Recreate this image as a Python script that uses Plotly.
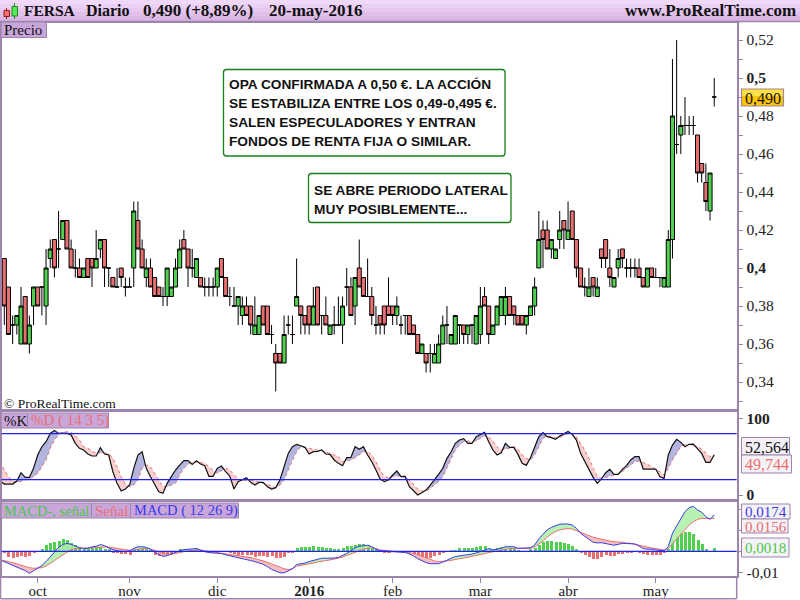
import plotly.graph_objects as go

# ---------- data ----------
opens = [.405,.39,.37,.37,.36,.385,.36,.38,.39,.39,
 .38,.405,.415,.41,.415,.425,.41,.40,.40,.395,
 .405,.405,.40,.41,.415,.40,.395,.39,.40,.39,
 .39,.40,.425,.41,.395,.40,.395,.39,.385,.385,
 .385,.39,.40,.415,.41,.40,.395,.395,.39,.39,
 .39,.39,.405,.395,.385,.38,.38,.375,.38,.38,
 .365,.365,.38,.38,.365,.355,.355,.35,.37,.365,
 .38,.38,.375,.38,.37,.39,.375,.375,.365,.37,
 .37,.37,.39,.39,.38,.40,.395,.385,.385,.37,
 .375,.38,.38,.38,.375,.37,.375,.375,.37,.365,
 .355,.355,.355,.35,.35,.36,.37,.36,.36,.37,
 .37,.365,.37,.36,.365,.385,.38,.365,.37,.375,
 .375,.385,.38,.375,.375,.37,.375,.38,.40,.42,
 .42,.41,.405,.415,.425,.415,.43,.415,.40,.39,
 .385,.395,.385,.41,.415,.40,.39,.40,.41,.40,
 .40,.40,.40,.395,.39,.40,.395,.395,.39,.39,
 .415,.465,.47,.475,.475,.475,.47,.455,.445,.43,.49]
closes = [.38,.365,.37,.375,.38,.36,.37,.39,.38,.39,
 .40,.41,.40,.41,.425,.41,.40,.40,.395,.40,
 .395,.40,.405,.415,.40,.40,.39,.39,.395,.39,
 .39,.43,.41,.40,.40,.39,.385,.385,.385,.40,
 .39,.40,.41,.41,.40,.40,.405,.39,.39,.39,
 .39,.40,.395,.385,.385,.38,.385,.38,.375,.37,
 .37,.375,.37,.365,.365,.35,.35,.365,.37,.365,
 .385,.375,.37,.37,.38,.37,.375,.37,.37,.37,
 .37,.38,.39,.375,.395,.39,.385,.385,.375,.37,
 .37,.37,.375,.375,.38,.37,.375,.365,.365,.355,
 .36,.35,.355,.355,.36,.37,.37,.365,.375,.37,
 .365,.37,.37,.375,.38,.38,.365,.37,.38,.385,
 .385,.375,.375,.37,.37,.375,.38,.39,.415,.415,
 .41,.415,.41,.42,.42,.42,.415,.40,.39,.39,
 .39,.39,.39,.405,.405,.395,.395,.405,.405,.40,
 .40,.40,.395,.39,.40,.395,.395,.395,.395,.415,
 .48,.465,.475,.475,.475,.475,.45,.45,.435,.45,.49]
highs = [.405,.39,.375,.375,.39,.385,.375,.39,.39,.39,
 .41,.415,.415,.43,.425,.425,.415,.41,.405,.40,
 .405,.405,.42,.415,.415,.40,.395,.40,.40,.395,
 .395,.435,.435,.415,.405,.405,.395,.39,.39,.40,
 .39,.405,.415,.42,.41,.41,.405,.395,.395,.395,
 .395,.40,.405,.395,.39,.39,.385,.385,.385,.38,
 .385,.375,.38,.38,.37,.36,.355,.375,.375,.375,
 .405,.38,.375,.38,.39,.39,.375,.385,.37,.38,
 .385,.385,.40,.395,.395,.415,.395,.405,.39,.38,
 .375,.38,.395,.38,.385,.375,.375,.375,.37,.365,
 .36,.355,.36,.36,.365,.375,.38,.365,.375,.37,
 .37,.37,.37,.375,.39,.39,.38,.37,.38,.385,
 .39,.385,.38,.375,.375,.375,.38,.395,.43,.425,
 .425,.415,.41,.43,.425,.435,.43,.415,.40,.395,
 .40,.395,.395,.41,.415,.41,.395,.41,.41,.405,
 .405,.405,.405,.395,.40,.40,.40,.395,.395,.42,
 .51,.52,.48,.49,.48,.48,.47,.455,.455,.45,.50]
lows = [.37,.365,.36,.365,.36,.36,.355,.37,.38,.375,
 .37,.40,.395,.40,.415,.41,.40,.395,.395,.395,
 .395,.39,.40,.405,.39,.39,.39,.39,.39,.385,
 .39,.39,.41,.40,.39,.39,.385,.385,.38,.38,
 .385,.39,.40,.41,.39,.395,.395,.39,.385,.385,
 .385,.385,.395,.385,.38,.38,.37,.37,.375,.365,
 .365,.365,.37,.365,.36,.335,.35,.35,.365,.36,
 .38,.365,.365,.365,.37,.37,.365,.37,.365,.365,
 .37,.36,.38,.375,.37,.39,.385,.385,.37,.365,
 .365,.365,.375,.37,.37,.365,.365,.365,.365,.355,
 .355,.345,.345,.35,.35,.36,.36,.36,.36,.36,
 .36,.36,.36,.36,.36,.38,.36,.365,.37,.375,
 .37,.375,.37,.37,.37,.365,.375,.375,.40,.40,
 .41,.405,.405,.41,.41,.415,.415,.395,.39,.385,
 .385,.385,.385,.40,.40,.39,.39,.395,.40,.395,
 .395,.395,.395,.39,.39,.395,.395,.39,.39,.39,
 .405,.46,.46,.47,.47,.47,.445,.445,.43,.425,.485]

# stochastic %K / %D, first value is the bar just left of the first candle
stoch_k = [18.3,
 14.3,14.3,14.3,18.3,29.1,23,23,34.8,52.2,63,69.6,80.4,84.3,80.4,80.9,80.4,78.3,67.4,60.9,58.7,
 53.5,50.9,50.9,61.7,53.5,52.2,30.4,15.2,5.2,7.8,13,34.8,52.2,56.5,34.8,23.9,13,4.3,2.2,15.2,
 23.9,32.6,39.1,44.8,44.8,40,44.8,40.4,38.3,24.3,24.3,34.8,37.8,30.4,24.8,7.8,17.4,19.6,22.6,16.5,
 13,16.5,16.5,10.9,
 7.8,9.6,19.6,37,54.3,63,66.1,64.3,62.2,53.5,56.5,57,58.7,53.5,53,45.7,41.3,38.3,48.7,49.1,
 63,59.6,63,52.2,43.5,32.6,20.9,17.4,19.6,26.1,31.3,23.9,23.9,10.9,5.7,0,3,6.5,13,19.6,
 27,34.8,47.8,56.5,67.4,71.7,73.5,67.4,67.4,76.1,79.1,81.7,69.6,58.7,52.2,55.2,67.4,62.2,62.2,53,
 41.3,38.7,
 48.7,63,76.1,81.3,76.1,74.8,72.6,77,80.4,83,79.1,71.7,54.3,43.5,32.6,23,15.2,20.9,29.1,33.5,
 27,27,33.5,38.3,45.7,50,50,33.9,33.9,33.9,33.9,23.9,21.7,52.2,65.2,72.6,68.7,63,66.1,66.5,
 60.9,54.3,42.6,42.6,52.564]
stoch_d = [43.5,
 32.6,23.9,18.3,16.5,18.3,19.6,20.9,23.9,28.3,37,45.7,60.9,71.7,79.1,81.7,82.6,81.7,77.4,71.7,63,
 60.9,57.4,54.3,55.2,55.2,54.3,47.8,37,23.9,14.3,10.9,13,19.6,34.8,39.1,37,28.3,19.6,10.9,10.9,
 13,15.2,26.1,34.8,40,42.6,42.6,42.6,41.3,37,31.7,28.3,31.7,34.8,32.6,26.1,20.9,18.3,19.6,19.6,
 18.3,16.5,15.7,13.9,
 11.7,9.6,13,19.6,32.6,45.7,56.5,63,61.7,60.9,59.6,58.7,57.8,56.5,54.3,52.2,50,43.5,44.3,45.7,
 48.7,52.2,56.5,56.5,52.2,43.5,32.6,23.9,22.6,23.9,24.8,25.2,25.2,19.6,13,7.8,5.2,5.2,8.7,13,
 17.4,23.9,34.8,47.8,58.7,65.2,69.6,70.4,69.6,70.4,73.9,77.4,76.1,70.4,63,58.7,60,60.9,63,59.6,
 52.2,47.8,
 45.7,52.2,63,73.9,77.4,76.1,74.8,75.2,77.4,80.4,80.4,76.1,67.4,58.7,47.8,34.8,23.9,21.7,23,24.8,
 26.1,27,30.4,34.8,39.1,43.5,44.3,42.6,40,37,33.9,30.4,26.1,34.8,45.7,54.3,63,66.1,66.1,64.3,
 63,60,54.3,50,49.744]

# MACD, signal and histogram in ten-thousandths
macd_e4 = [-41,
 -49,-57,-67,-76,-84,-92,-105,-92,-81,-68,-49,-25,-2,19,32,38,33,24,17,14,14,21,24,32,27,17,8,3,2,-2,
 2,14,21,22,19,10,-5,-16,-24,-21,-13,-3,3,8,10,11,13,6,-2,-6,-8,-10,-11,-17,-21,-25,-30,-33,-37,-44,
 -49,-54,-62,-73,
 -86,-94,-102,-103,-94,-83,-63,-60,-56,-49,-43,-40,-33,-33,-33,-32,-29,-21,-10,2,17,24,27,29,22,10,
 3,0,0,-2,-2,-3,-5,-13,-22,-35,-46,-54,-59,-59,-59,-52,-41,-33,-25,-22,-21,-17,-13,-8,-3,5,13,6,10,14,
 22,22,22,14,14,14,
 17,30,59,81,102,114,122,129,130,130,125,110,86,70,57,43,40,41,37,35,29,33,38,37,35,35,25,13,10,10,
 6,3,3,22,86,121,157,189,208,214,197,186,165,152,174]
signal_e4 = [-41,
 -44,-49,-54,-60,-67,-73,-78,-81,-81,-78,-70,-59,-44,-30,-16,-3,8,13,14,16,16,17,19,22,22,21,17,14,11,8,
 5,8,11,14,14,11,6,-2,-10,-14,-14,-11,-6,-2,2,5,6,6,3,0,-3,-6,-10,-13,-14,-17,-19,-22,-25,-30,
 -35,-40,-44,-52,
 -60,-68,-76,-83,-87,-83,-71,-68,-65,-60,-56,-51,-46,-44,-41,-38,-33,-27,-19,-13,-5,3,10,14,17,13,
 6,5,3,0,-2,-2,-3,-6,-10,-16,-24,-33,-41,-46,-49,-49,-46,-43,-38,-35,-32,-29,-24,-19,-16,-11,-6,-3,0,5,
 10,13,14,14,14,14,
 14,21,33,49,67,83,94,102,106,108,106,98,89,81,73,67,62,57,52,49,46,43,41,40,38,33,29,24,19,16,
 13,10,6,13,33,57,81,105,125,141,152,157,157,157,156]
hist_e4 = [-5,-29,-30,-25,-22,-25,-22,-10,0,11,30,41,44,49,57,52,41,30,22,17,14,14,17,21,11,10,-10,-10,-13,-14,
 -16,13,13,14,10,2,-17,-21,-22,-16,-11,-6,11,10,10,8,14,5,-3,-3,-5,-3,-3,-3,-6,-11,-16,-19,-19,-19,
 -27,-24,-22,-25,
 -21,-30,-30,-25,-10,-5,16,21,22,22,24,22,22,17,17,13,13,17,24,24,30,35,33,29,17,10,-3,-8,-5,-2,
 -2,-3,-3,-6,-13,-24,-27,-30,-30,-24,-17,-8,-3,8,8,14,14,14,14,19,24,25,17,10,14,19,22,22,22,8,0,0,
 11,17,30,44,48,49,44,44,41,37,27,11,-8,-16,-29,-35,-37,-27,-19,-21,-21,-14,-11,-10,-5,-3,-6,-13,-16,-16,
 -16,-16,-10,10,54,73,86,90,94,81,54,35,11,0,18]

month_bars = [8, 30, 51, 73, 93, 114, 135, 156]
month_labels = ["oct", "nov", "dic", "<b>2016</b>", "feb", "mar", "abr", "may"]
price_ticks = [.52, .50, .48, .46, .44, .42, .40, .38, .36, .34]
price_labels = ["0,52", "<b>0,5</b>", "0,48", "0,46", "0,44", "0,42", "<b>0,4</b>", "0,38", "0,36", "0,34"]
price_minor = [.51, .49, .47, .45, .43, .41, .39, .37, .35, .33]
note_one = ["OPA CONFIRMADA A 0,50 €. LA ACCIÓN",
            "SE ESTABILIZA ENTRE LOS 0,49-0,495 €.",
            "SALEN ESPECULADORES Y ENTRAN",
            "FONDOS DE RENTA FIJA O SIMILAR."]
note_two = ["SE ABRE PERIODO LATERAL", "MUY POSIBLEMENTE..."]

assert all(len(a) == 171 for a in (opens, closes, highs, lows, hist_e4))
assert all(len(a) == 172 for a in (stoch_k, stoch_d, macd_e4, signal_e4))

# ---------- style ----------
SERIF = "Liberation Serif"
SANS = "Liberation Sans"
FRAME = "#9d84ad"
BLUE = "#2222ee"
RED = "#e76f6f"
GREEN = "#4fd14f"

W, H = 800, 600
def px(x): return x / W
def py(y): return 1 - y / H

bars = list(range(171))
ind_x = list(range(-1, 171))
macd = [v / 10000 for v in macd_e4]
signal = [v / 10000 for v in signal_e4]
hist = [v / 10000 for v in hist_e4]


def split_fill(xs, a, b):
    """Closed polygons between series a and b: where a>=b and where a<b."""
    up_x, up_y, dn_x, dn_y = [], [], [], []
    for j in range(len(xs) - 1):
        x0, x1, a0, a1, b0, b1 = xs[j], xs[j + 1], a[j], a[j + 1], b[j], b[j + 1]
        d0, d1 = a0 - b0, a1 - b1
        if d0 * d1 < 0:
            t = d0 / (d0 - d1)
            xm, ym = x0 + t * (x1 - x0), a0 + t * (a1 - a0)
            first = (up_x, up_y) if d0 > 0 else (dn_x, dn_y)
            second = (dn_x, dn_y) if d0 > 0 else (up_x, up_y)
            first[0].extend([x0, xm, x0, x0, None])
            first[1].extend([a0, ym, b0, a0, None])
            second[0].extend([xm, x1, x1, xm, None])
            second[1].extend([ym, a1, b1, ym, None])
        else:
            tx, ty = (up_x, up_y) if (d0 + d1) >= 0 else (dn_x, dn_y)
            tx.extend([x0, x1, x1, x0, x0, None])
            ty.extend([a0, a1, b1, b0, a0, None])
    return up_x, up_y, dn_x, dn_y


def poly(x, y, color, xa, ya):
    return go.Scatter(x=x, y=y, mode="lines", fill="toself", fillcolor=color,
                      line=dict(width=0), hoverinfo="skip", xaxis=xa, yaxis=ya,
                      showlegend=False)


fig = go.Figure()

# price panel
fig.add_trace(go.Candlestick(
    x=bars, open=opens, high=highs, low=lows, close=closes, xaxis="x", yaxis="y",
    whiskerwidth=0, showlegend=False,
    increasing=dict(fillcolor=GREEN, line=dict(color="#000000", width=1)),
    decreasing=dict(fillcolor=RED, line=dict(color="#000000", width=1))))

# stochastic panel
ux, uy, dx, dy = split_fill(ind_x, stoch_k, stoch_d)
fig.add_trace(poly(ux, uy, "#b3b5de", "x2", "y2"))
fig.add_trace(poly(dx, dy, "#f7cfcf", "x2", "y2"))
fig.add_trace(go.Scatter(x=ind_x, y=stoch_d, mode="lines", xaxis="x2", yaxis="y2", showlegend=False,
                         line=dict(color=RED, width=1, dash="3px,3px")))
fig.add_trace(go.Scatter(x=ind_x, y=stoch_k, mode="lines", xaxis="x2", yaxis="y2", showlegend=False,
                         line=dict(color="#111111", width=1.2)))

# MACD panel
fig.add_trace(go.Bar(x=bars, y=hist, xaxis="x3", yaxis="y3", width=0.72, showlegend=False,
                     marker=dict(color=[GREEN if v >= 0 else RED for v in hist], line=dict(width=0))))
ux, uy, dx, dy = split_fill(ind_x, macd, signal)
fig.add_trace(poly(ux, uy, "rgba(170,240,165,0.85)", "x3", "y3"))
fig.add_trace(poly(dx, dy, "rgba(245,180,180,0.85)", "x3", "y3"))
fig.add_trace(go.Scatter(x=ind_x, y=signal, mode="lines", xaxis="x3", yaxis="y3", showlegend=False,
                         line=dict(color=RED, width=1)))
fig.add_trace(go.Scatter(x=ind_x, y=macd, mode="lines", xaxis="x3", yaxis="y3", showlegend=False,
                         line=dict(color="#3a3ae8", width=1)))

# axes
LEFT, RIGHT = 1.5, 736.7
xr = [(LEFT - 4.3) / 4.176, (RIGHT - 4.3) / 4.176]
common_x = dict(range=xr, domain=[px(LEFT), px(RIGHT)], showgrid=False, zeroline=False,
                showline=True, mirror=True, linecolor=FRAME, linewidth=1.5, fixedrange=True,
                rangeslider=dict(visible=False))
common_y = dict(side="right", showgrid=False, zeroline=False, showline=True, mirror=True,
                linecolor=FRAME, linewidth=1.5, ticks="outside", ticklen=5, tickcolor=FRAME,
                tickfont=dict(family=SERIF, size=15.5, color="#222222"), fixedrange=True)

fig.update_layout(
    width=W, height=H, margin=dict(l=0, r=0, t=0, b=0, pad=0, autoexpand=False), autosize=False,
    paper_bgcolor="white", plot_bgcolor="white", showlegend=False,
    boxgap=0.03, boxgroupgap=0, bargap=0, barmode="overlay",
    xaxis=dict(common_x, anchor="y", showticklabels=False, ticks=""),
    xaxis2=dict(common_x, anchor="y2", showticklabels=False, ticks=""),
    xaxis3=dict(common_x, anchor="y3", tickmode="array", tickvals=month_bars, ticktext=month_labels,
                ticks="outside", ticklen=5, tickcolor=FRAME, ticklabelstandoff=-5,
                tickfont=dict(family=SERIF, size=15, color="#222222")),
    yaxis=dict(common_y, anchor="x", domain=[py(409), py(23)],
               range=[.40 - (409 - 268) / 1900, .40 + (268 - 23) / 1900],
               tickmode="array", tickvals=price_ticks, ticktext=price_labels,
               minor=dict(tickmode="array", tickvals=price_minor, ticks="outside", ticklen=5, tickcolor=FRAME)),
    yaxis2=dict(common_y, anchor="x2", domain=[py(499), py(412)], range=[-5.2, 108.3],
                tickmode="array", tickvals=[100, 0], ticktext=["<b>100</b>", "<b>0</b>"]),
    yaxis3=dict(common_y, anchor="x3", domain=[py(576), py(502)], range=[-0.01176, 0.02348],
                tickmode="array", tickvals=[-0.01, 0, 0.01, 0.02], ticktext=["-0,01", "", "", ""]),
)

shapes = []
annots = []


def rect(x0, y0, x1, y1, fill, line=None, lw=1):
    shapes.append(dict(type="rect", xref="paper", yref="paper", x0=px(x0), x1=px(x1), y0=py(y0), y1=py(y1),
                       fillcolor=fill, line=dict(color=line or fill, width=lw if line else 0), layer="above"))


def round_rect(x0, y0, x1, y1, r, fill, line, lw):
    X0, X1, Y0, Y1 = px(x0), px(x1), py(y0), py(y1)
    rx, ry = px(r), r / H
    path = (f"M {X0 + rx} {Y0} L {X1 - rx} {Y0} Q {X1} {Y0} {X1} {Y0 - ry} L {X1} {Y1 + ry} "
            f"Q {X1} {Y1} {X1 - rx} {Y1} L {X0 + rx} {Y1} Q {X0} {Y1} {X0} {Y1 + ry} "
            f"L {X0} {Y0 - ry} Q {X0} {Y0} {X0 + rx} {Y0} Z")
    shapes.append(dict(type="path", xref="paper", yref="paper", path=path, fillcolor=fill,
                       line=dict(color=line, width=lw), layer="above"))


def label(x, y, text, size, color="#111111", family=SERIF, anchor="left", yanchor="middle"):
    annots.append(dict(xref="paper", yref="paper", x=px(x), y=py(y), text=text, showarrow=False,
                       xanchor=anchor, yanchor=yanchor, align="left",
                       font=dict(family=family, size=size, color=color)))


# level lines
for val, ya, xa in [(80, "y2", "x2"), (20, "y2", "x2"), (0, "y3", "x3")]:
    shapes.append(dict(type="line", xref=xa + " domain", yref=ya, x0=0, x1=1, y0=val, y1=val,
                       line=dict(color=BLUE, width=1.2), layer="above"))

# header band
for k, c in enumerate(["#f0d8f8", "#ebd0f5", "#e6c8f0", "#e0bfea", "#d9b6e3"]):
    rect(0, k * 4, 800, (k + 1) * 4 + 1.5, c)
shapes.append(dict(type="line", xref="paper", yref="paper", x0=0, x1=1, y0=py(21.5), y1=py(21.5),
                   line=dict(color=FRAME, width=1.5), layer="above"))
# icon
shapes.append(dict(type="line", xref="paper", yref="paper", x0=px(6.5), x1=px(6.5), y0=py(8), y1=py(19),
                   line=dict(color="#a01818", width=1), layer="above"))
rect(4, 10.5, 9.5, 16.5, "#f07070", "#a01818")
shapes.append(dict(type="line", xref="paper", yref="paper", x0=px(14.5), x1=px(14.5), y0=py(3), y1=py(19),
                   line=dict(color="#109010", width=1), layer="above"))
rect(12, 6.5, 17.5, 16, "#58e858", "#109010")

label(22, 11, "<b>FERSA</b>", 15.5)
label(84, 11, "<b>Diario</b>", 16)
label(141, 11, "<b>0,490 (+8,89%)</b>", 17)
label(267, 11, "<b>20-may-2016</b>", 17)
label(798, 11, "<b>www.ProRealTime.com</b>", 17, anchor="right")

# panel tabs
TAB = "#c9a6da"
rect(1, 22, 46.5, 37.5, TAB, FRAME)
label(2, 30, "Precio", 15)
rect(1, 413, 27.5, 428, TAB, FRAME)
label(2, 420.5, "%K", 15)
rect(27.5, 413, 108.5, 428, TAB, FRAME)
label(29, 420.5, "%D ( 14 3 5)", 15, color=RED)
rect(1, 503, 91.5, 518, TAB, FRAME)
label(2, 510.5, "MACD-, señal", 14.5, color="#48c848")
rect(91.5, 503, 130.5, 518, TAB, FRAME)
label(93, 510.5, "Señal", 15, color=RED)
rect(130.5, 503, 238.5, 518, TAB, FRAME)
label(132, 510.5, "MACD ( 12 26 9)", 14.5, color="#3a3ae8")

label(2, 403, "© ProRealTime.com", 13.5)

# notes
GREEN_BORDER = "#158015"
round_rect(223.5, 69.5, 505, 156, 3, "white", GREEN_BORDER, 1.3)
round_rect(308.5, 173.5, 511, 222.5, 3, "white", GREEN_BORDER, 1.3)
for k, line in enumerate(note_one):
    label(227, 84.5 + k * 19, "<b>" + line + "</b>", 13.7, color="#111111", family=SANS)
for k, line in enumerate(note_two):
    label(311.5, 190 + k * 19, "<b>" + line + "</b>", 13.7, color="#111111", family=SANS)

# right-hand value tags
rect(741.5, 89, 783.5, 106, "#ffc400", FRAME, 1.2)
rect(742.2, 89.7, 782.8, 96, "#ffe04a")
label(743, 98, "0,490", 16)
rect(741.5, 437.5, 789.5, 455, "#f4f2f6", FRAME, 1)
label(743, 447, "52,564", 16)
rect(741.5, 455, 791.5, 473, "#f4f2f6", FRAME, 1)
label(743, 464.5, "49,744", 16, color=RED)
rect(741.5, 504, 790, 519, "#f4f2f6", FRAME, 1)
label(743, 512, "0,0174", 15, color="#3a3ae8")
rect(741.5, 519, 788, 533, "#f4f2f6", FRAME, 1)
label(743, 526.5, "0,0156", 15, color=RED)
rect(741.5, 538, 789, 557, "#f4f2f6", FRAME, 1)
label(743, 548, "0,0018", 15, color="#48c848")

# outer frame
for x0, y0, x1, y1 in [(0.5, 21, 0.5, 599), (0.5, 598.8, 736.7, 598.8), (736.7, 576, 736.7, 598.8)]:
    shapes.append(dict(type="line", xref="paper", yref="paper", x0=px(x0), x1=px(x1), y0=py(y0), y1=py(y1),
                       line=dict(color=FRAME, width=1.5), layer="above"))

fig.update_layout(shapes=shapes, annotations=annots)
fig.write_html("out.html", config={"displayModeBar": False},
               post_script="document.body.style.margin='0';document.documentElement.style.overflow='hidden';")
